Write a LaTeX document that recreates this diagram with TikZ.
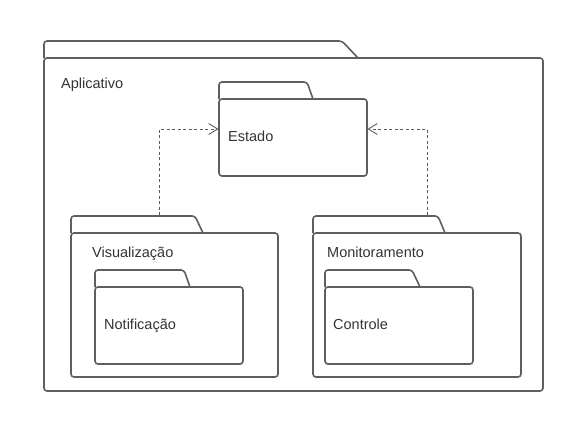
\documentclass[tikz,border=0pt]{standalone}
\usepackage{fontspec}
\setmainfont{Liberation Sans}
\usetikzlibrary{arrows.meta}
\definecolor{linec}{HTML}{5E5E5E}
\definecolor{textc}{HTML}{333333}
\tikzset{
  frame/.style={draw=linec, line width=1.6pt, rounded corners=3pt},
  pbody/.style={frame, anchor=north west, inner sep=0pt, outer sep=0pt},
  lbl/.style={anchor=base west, text=textc, inner sep=0pt, font=\fontsize{14.5}{17}\selectfont},
  conn/.style={draw=linec, line width=0.8pt, dash pattern=on 3pt off 2.5pt, -{Straight Barb[length=9pt,width=11pt,line width=0.9pt]}}
}
\begin{document}
\begin{tikzpicture}[x=1pt,y=-1pt]
\useasboundingbox (0,0) rectangle (580,432);
% outer package
\node[pbody, minimum width=499pt, minimum height=333pt] (app) at (44,58) {};
\draw[frame] (app.north west) -- (44,41) -- (342,41) -- (358,58);
\node[lbl] (appl) at (61,88) {Aplicativo};
% Estado
\node[pbody, minimum width=148pt, minimum height=77pt] (estado) at (219,99) {};
\draw[frame] (estado.north west) -- (219,82) -- (307,82) -- (313,99);
\node[lbl] (estl) at (228,141) {Estado};
% Visualizacao
\node[pbody, minimum width=207pt, minimum height=144pt] (vis) at (71,233) {};
\draw[frame] (vis.north west) -- (71,216) -- (195,216) -- (203,233);
\node[lbl] (visl) at (92,257) {Visualização};
% Notificacao
\node[pbody, minimum width=148pt, minimum height=77pt] (notif) at (95,287) {};
\draw[frame] (notif.north west) -- (95,270) -- (184,270) -- (190,287);
\node[lbl] (notl) at (104,329) {Notificação};
% Monitoramento
\node[pbody, minimum width=208pt, minimum height=144pt] (mon) at (313,233) {};
\draw[frame] (mon.north west) -- (313,216) -- (438,216) -- (445,233);
\node[lbl] (monl) at (327,257) {Monitoramento};
% Controle
\node[pbody, minimum width=148pt, minimum height=77pt] (ctrl) at (325,287) {};
\draw[frame] (ctrl.north west) -- (325,270) -- (412,270) -- (420,287);
\node[lbl] (ctrll) at (333,329) {Controle};
% connector ends
\coordinate (vistop) at (159,215);
\coordinate (montop) at (427,215);
\coordinate (estinL) at (218.5,129);
\coordinate (estinR) at (367.5,129);
\draw[conn] (vistop) |- (estinL);
\draw[conn] (montop) |- (estinR);
\end{tikzpicture}
\end{document}
